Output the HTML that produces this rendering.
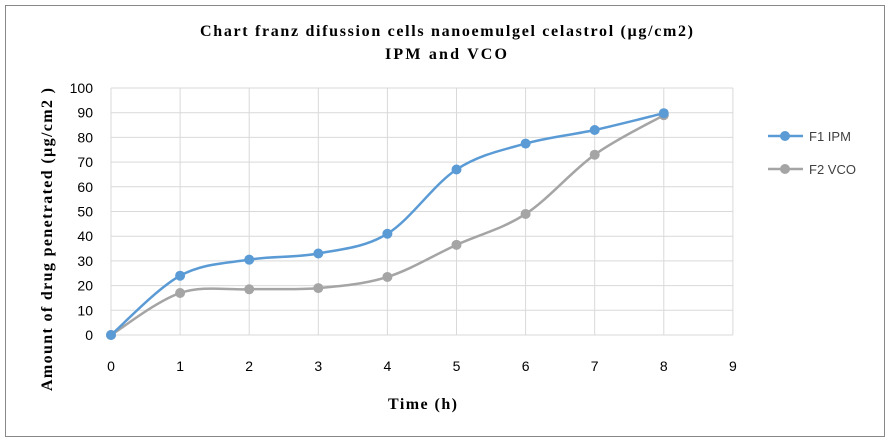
<!DOCTYPE html>
<html><head><meta charset="utf-8"><style>
body{margin:0;background:#fff;}
svg{display:block;font-family:"Liberation Sans",sans-serif;}
.serif{font-family:"Liberation Serif",serif;font-weight:bold;}
</style></head><body>
<svg id="c" width="891" height="441">
<rect x="5.5" y="5.5" width="879" height="431" fill="#fff" stroke="#888"/>
<text class="serif" x="200" y="36" font-size="16" textLength="493" lengthAdjust="spacing">Chart franz difussion cells nanoemulgel celastrol (µg/cm2)</text>
<text class="serif" x="385" y="59" font-size="16" textLength="122" lengthAdjust="spacing">IPM and VCO</text>
<text class="serif" x="388" y="409" font-size="16" textLength="69" lengthAdjust="spacing">Time (h)</text>
<text class="serif" transform="translate(52,391) rotate(-90)" font-size="16" textLength="303" lengthAdjust="spacing">Amount of drug penetrated  (µg/cm2 )</text>
<g id="grid"></g><g id="series"></g>
<g>
<line x1="768" y1="136" x2="803" y2="136" stroke="#5b9bd5" stroke-width="2.5"/><circle cx="785" cy="136" r="5" fill="#5b9bd5"/>
<text x="809" y="141" font-size="13" fill="#404040">F1 IPM</text>
<line x1="768" y1="169" x2="803" y2="169" stroke="#a5a5a5" stroke-width="2.5"/><circle cx="785" cy="169" r="5" fill="#a5a5a5"/>
<text x="809" y="174" font-size="13" fill="#404040">F2 VCO</text>
</g>
</svg>
<script>
const xTicks=[0,1,2,3,4,5,6,7,8,9];
const yTicks=[0,10,20,30,40,50,60,70,80,90,100];
const times=[0,1,2,3,4,5,6,7,8];
const f1Values=[0,24,30.5,33,41,67,77.5,83,89.8];
const f2Values=[0,17,18.5,19,23.5,36.5,49,73,89];
const X=v=>111+v*69.1, Y=v=>335-v*2.47;
const NS="http://www.w3.org/2000/svg";
const grid=document.getElementById('grid'), ser=document.getElementById('series');
function mk(tag,attrs,parent){const e=document.createElementNS(NS,tag);for(const k in attrs)e.setAttribute(k,attrs[k]);parent.appendChild(e);return e;}
yTicks.forEach(t=>{
 const l=mk('line',{x1:X(0),x2:X(9),y1:Y(t),y2:Y(t),stroke:'#d9d9d9'},grid);
 
 
 const tx=mk('text',{x:93,y:Y(t)+5,'text-anchor':'end','font-size':14,fill:'#000'},grid);tx.textContent=t;
 
 
});
xTicks.forEach(t=>{
 const l=mk('line',{x1:X(t),x2:X(t),y1:Y(0),y2:Y(100),stroke:'#d9d9d9'},grid);
 
 
 const tx=mk('text',{x:X(t),y:371,'text-anchor':'middle','font-size':14,fill:'#000'},grid);tx.textContent=t;
 
 
});
function smooth(pts){let d=`M${pts[0][0]},${pts[0][1]}`;for(let i=0;i<pts.length-1;i++){const p0=pts[i-1]||pts[i],p1=pts[i],p2=pts[i+1],p3=pts[i+2]||p2;const t=1/6;d+=` C${p1[0]+(p2[0]-p0[0])*t},${p1[1]+(p2[1]-p0[1])*t} ${p2[0]-(p3[0]-p1[0])*t},${p2[1]-(p3[1]-p1[1])*t} ${p2[0]},${p2[1]}`;}return d;}
function draw(vals,col,name){
 const pts=times.map((t,i)=>[X(t),Y(vals[i])]);
 const p=mk('path',{d:smooth(pts),fill:'none',stroke:col,'stroke-width':2.5},ser);
 
 
 pts.forEach(q=>{const c=mk('circle',{cx:q[0],cy:q[1],r:5,fill:col},ser);
  
  });
}
draw(f2Values,'#a5a5a5','f2-vco');
draw(f1Values,'#5b9bd5','f1-ipm');
</script>
</body></html>
